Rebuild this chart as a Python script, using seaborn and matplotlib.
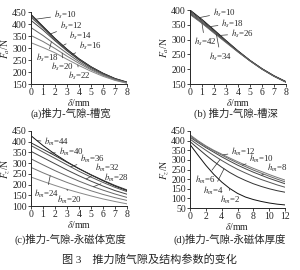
import numpy as np
import pandas as pd
import seaborn as sns
import matplotlib
matplotlib.use("Agg")
import matplotlib.pyplot as plt

sns.set_style("ticks")
plt.rcParams['font.family'] = ['Liberation Serif', 'Noto Sans CJK SC', 'DejaVu Sans']
plt.rcParams['mathtext.fontset'] = 'stix'

# ---------- data ----------
delta8 = [0, 1, 2, 3, 4, 5, 6, 7, 8]
delta12 = [0, 1, 2, 3, 4, 5, 6, 7, 8, 9, 10, 11, 12]

bs_values = [10, 12, 14, 16, 18, 20, 22]
Fa_bs = [
    [440, 390, 340, 295, 255, 222, 195, 173, 158],
    [435, 388, 338, 293, 254, 221, 194, 172, 157],
    [428, 383, 335, 291, 252, 220, 193, 171, 156],
    [415, 375, 330, 288, 250, 218, 192, 170, 156],
    [385, 352, 315, 278, 243, 213, 189, 169, 155],
    [352, 327, 298, 266, 236, 209, 186, 167, 154],
    [322, 302, 280, 253, 227, 203, 182, 165, 153],
]

hs_values = [10, 18, 26, 34, 42]
Fa_hs = [
    [400, 368, 333, 297, 262, 230, 202, 178, 158],
    [396, 364, 330, 295, 261, 229, 201, 177, 157],
    [392, 360, 327, 294, 260, 229, 201, 177, 157],
    [388, 357, 324, 292, 259, 228, 200, 176, 156],
    [385, 355, 322, 290, 258, 228, 200, 176, 156],
]

bm_values = [44, 40, 36, 32, 28, 24, 20]
Fz_bm = [
    [428, 382, 342, 306, 274, 245, 218, 193, 172],
    [395, 365, 335, 304, 274, 246, 220, 196, 175],
    [382, 352, 322, 292, 262, 235, 210, 187, 167],
    [355, 326, 297, 268, 241, 216, 193, 172, 155],
    [320, 292, 265, 240, 216, 194, 174, 156, 140],
    [280, 255, 232, 210, 190, 171, 154, 139, 126],
    [235, 215, 196, 178, 162, 147, 133, 121, 110],
]

hm_values = [2, 4, 6, 8, 10, 12]
Fz_hm = [
    [380, 325, 272, 225, 185, 152, 126, 107, 94, 84, 76, 70, 66],
    [395, 360, 325, 292, 262, 235, 212, 193, 176, 162, 150, 140, 132],
    [408, 378, 350, 323, 297, 273, 251, 232, 214, 198, 184, 170, 158],
    [418, 390, 364, 340, 316, 294, 273, 254, 236, 220, 204, 190, 176],
    [425, 396, 370, 347, 325, 304, 284, 265, 247, 231, 215, 200, 186],
    [430, 400, 373, 350, 330, 310, 291, 273, 256, 240, 224, 209, 195],
]

captions = ["(a)推力-气隙-槽宽", "(b) 推力-气隙-槽深",
            "(c)推力-气隙-永磁体宽度", "(d)推力-气隙-永磁体厚度"]
fig_title = "图 3    推力随气隙及结构参数的变化"

# label positions (text x, text y, curve x)
lab_a = [(1.9, 437, 0.4), (2.4, 392, 1.6), (3.2, 350, 2.6), (4.0, 307, 3.4),
         (0.4, 258, 1.7), (1.7, 220, 2.6), (3.1, 182, 3.9)]
lab_b = [(1.9, 391, 0.8), (2.6, 354, 1.6), (3.4, 320, 2.4),
         (1.6, 243, 2.2), (0.3, 292, 1.0)]
lab_c = [(1.1, 397, 0.5), (2.3, 352, 1.6), (4.1, 318, 3.3), (5.3, 279, 4.6),
         (6.1, 232, 5.2), (0.25, 156, 1.6), (2.2, 128, 3.0)]
lab_d = [(3.8, 92, 5.0), (1.6, 140, 4.3), (0.6, 198, 3.8),
         (9.7, 256, 9.0), (7.5, 307, 6.6), (5.2, 344, 4.2)]

fig = plt.figure(figsize=(3.0, 2.7), dpi=100)
W, H = 300, 270

def ax_at(x0, x1, ytop, ybot):
    return fig.add_axes([x0 / W, 1 - ybot / H, (x1 - x0) / W, (ybot - ytop) / H])

axes = [ax_at(31, 127, 12, 84), ax_at(190, 286, 10, 84),
        ax_at(31, 127, 131, 206), ax_at(190, 285, 131, 208)]

grays = ['#111111', '#333333', '#555555', '#444444', '#666666', '#777777', '#888888']

def draw(ax, xs, series, names, sym, labs, ylim, yticks, xticks, ylab):
    rows = []
    for n, ys in zip(names, series):
        for x, y in zip(xs, ys):
            rows.append({'d': x, 'F': y, 'p': str(n)})
    df = pd.DataFrame(rows)
    pal = {str(n): grays[i % len(grays)] for i, n in enumerate(names)}
    sns.lineplot(data=df, x='d', y='F', hue='p', palette=pal, ax=ax,
                 legend=False, linewidth=0.7)
    for (tx, ty, cx), n, ys in zip(labs, names, series):
        cy = float(np.interp(cx, xs, ys))
        ax.annotate(sym + "=" + str(n), xy=(cx, cy), xytext=(tx, ty),
                    fontsize=6.3, va='center', ha='left',
                    arrowprops=dict(arrowstyle='-', lw=0.5, color='#333333',
                                    shrinkA=0, shrinkB=0))
    ax.set_xlim(xticks[0], xticks[-1])
    ax.set_ylim(*ylim)
    ax.set_xticks(xticks)
    ax.set_yticks(yticks)
    ax.tick_params(labelsize=7, length=2, width=0.6, pad=1)
    ax.set_xlabel(r'$\delta$/mm', fontsize=7, labelpad=0)
    ax.set_ylabel(ylab, fontsize=7, labelpad=0)
    for s in ['left', 'bottom']:
        ax.spines[s].set_linewidth(0.7)
    sns.despine(ax=ax)

draw(axes[0], delta8, Fa_bs, bs_values, r'$b_s$', lab_a, (150, 450),
     [150, 200, 250, 300, 350, 400, 450], list(range(0, 9)), r'$F_a$/N')
draw(axes[1], delta8, Fa_hs, hs_values, r'$h_s$', lab_b, (150, 400),
     [150, 200, 250, 300, 350, 400], list(range(0, 9)), r'$F_a$/N')
draw(axes[2], delta8, Fz_bm, bm_values, r'$b_m$', lab_c, (100, 450),
     [100, 150, 200, 250, 300, 350, 400, 450], list(range(0, 9)), r'$F_z$/N')
draw(axes[3], delta12, Fz_hm, hm_values, r'$h_m$', lab_d, (50, 450),
     [50, 100, 150, 200, 250, 300, 350, 400, 450], [0, 2, 4, 6, 8, 10, 12], r'$F_z$/N')

fig.text(71 / W, 1 - 113 / H, captions[0], ha='center', va='center', fontsize=7.5)
fig.text(236 / W, 1 - 113 / H, captions[1], ha='center', va='center', fontsize=7.5)
fig.text(70 / W, 1 - 239 / H, captions[2], ha='center', va='center', fontsize=7.5)
fig.text(230 / W, 1 - 239 / H, captions[3], ha='center', va='center', fontsize=7.5)
fig.text(150 / W, 1 - 259 / H, fig_title, ha='center', va='center', fontsize=8)

fig.savefig('out.png', dpi=100)
